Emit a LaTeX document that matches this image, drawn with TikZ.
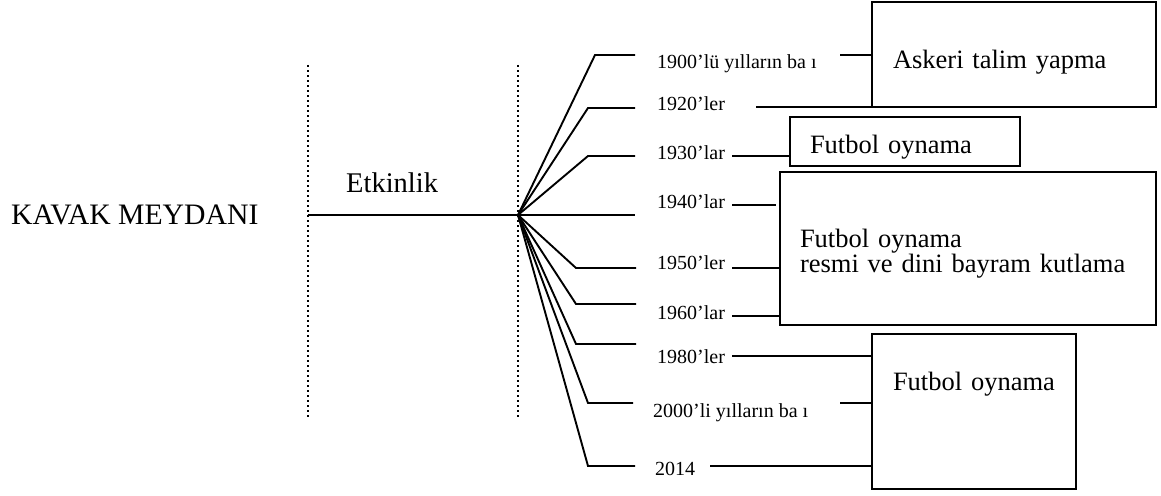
\documentclass[tikz,border=0pt]{standalone}
\usepackage{fontspec}
\setmainfont{Liberation Serif}
\usepackage{tikz}
\usetikzlibrary{positioning}

\tikzset{
  line/.style={line width=1.9pt},
  dots/.style={line width=2pt, dash pattern=on 2pt off 3pt},
  box/.style={draw, line width=1.9pt, align=left, inner ysep=0pt,
    font=\fontsize{26.5}{23.5}\selectfont},
  lbl/.style={anchor=base west, inner sep=0pt, font=\fontsize{20}{24}\selectfont},
  head/.style={anchor=base west, inner sep=0pt, font=\fontsize{28.5}{34}\selectfont}
}

\begin{document}
\begin{tikzpicture}[x=1pt,y=-1pt]
  \useasboundingbox (0,0) rectangle (1161,495);
  % texts
  \node[head, font=\fontsize{29.7}{34}\selectfont] at(11,224)(place){KAVAK MEYDANI};
  \node[head] at(346,192)(act){Etkinlik};
  % dotted lines
  \coordinate (d1a) at (308,65);
  \coordinate (d1b) at (308,418);
  \coordinate (d2a) at (518,65);
  \coordinate (d2b) at (518,418);
  \draw[dots] (d1a) -- (d1b);
  \draw[dots] (d2a) -- (d2b);
  % main line
  \coordinate (start) at (308,215);
  \coordinate (hub) at (518,215);
  \draw[line] (start) -- (hub);
  % years
  \node[lbl] at(657,68)(y1){1900’lü yılların ba ı};
  \node[lbl] at(657,110)(y2){1920’ler};
  \node[lbl] at(657,159)(y3){1930’lar};
  \node[lbl] at(657,208)(y4){1940’lar};
  \node[lbl] at(657,269)(y5){1950’ler};
  \node[lbl] at(657,319)(y6){1960’lar};
  \node[lbl] at(657,363)(y7){1980’ler};
  \node[lbl] at(653,417)(y8){2000’li yılların ba ı};
  \node[lbl] at(655,475)(y9){2014};
  % branches
  \coordinate (b1) at (595,55);  \coordinate (e1) at (635,55);
  \coordinate (b2) at (588,108); \coordinate (e2) at (635,108);
  \coordinate (b3) at (588,156); \coordinate (e3) at (635,156);
  \coordinate (e4) at (635,215);
  \coordinate (b5) at (576,268); \coordinate (e5) at (636,268);
  \coordinate (b6) at (576,304); \coordinate (e6) at (636,304);
  \coordinate (b7) at (576,344); \coordinate (e7) at (636,344);
  \coordinate (b8) at (588,403); \coordinate (e8) at (633,403);
  \coordinate (b9) at (588,466); \coordinate (e9) at (635,466);
  \draw[line] (hub) -- (b1) -- (e1);
  \draw[line] (hub) -- (b2) -- (e2);
  \draw[line] (hub) -- (b3) -- (e3);
  \draw[line] (hub) -- (e4);
  \draw[line] (hub) -- (b5) -- (e5);
  \draw[line] (hub) -- (b6) -- (e6);
  \draw[line] (hub) -- (b7) -- (e7);
  \draw[line] (hub) -- (b8) -- (e8);
  \draw[line] (hub) -- (b9) -- (e9);
  % boxes
  \node[box, minimum width=284, minimum height=105, inner xsep=21, text width=242,
    text height=34, text depth=7] at(1014,54.5)(drill){Askeri talim yapma};
  \node[box, minimum width=230, minimum height=49, inner xsep=20, text width=190,
    text height=30, text depth=7] at(905,141.5)(ball1){Futbol oynama};
  \node[box, minimum width=376, minimum height=153, inner xsep=20, text width=336,
    text height=30, text depth=33] at(968,248.5)(ball2){Futbol oynama\\resmi ve dini bayram kutlama};
  \node[box, minimum width=204, minimum height=155, inner xsep=21, text width=162,
    text height=20, text depth=63] at(974,411.5)(ball3){Futbol oynama};
  % links to boxes
  \coordinate (s1) at (840,55);
  \coordinate (s2) at (756,107);
  \coordinate (s3) at (732,156);
  \coordinate (s4) at (732,205);
  \coordinate (t4) at (776,205);
  \coordinate (s5) at (732,268);
  \coordinate (s6) at (732,316);
  \coordinate (s7) at (732,356);
  \coordinate (s8) at (840,403);
  \coordinate (s9) at (710,466);
  \draw[line] (s1) -- (s1 -| drill.west);
  \draw[line] (s2) -- (s2 -| drill.west);
  \draw[line] (s3) -- (s3 -| ball1.west);
  \draw[line] (s4) -- (t4);
  \draw[line] (s5) -- (s5 -| ball2.west);
  \draw[line] (s6) -- (s6 -| ball2.west);
  \draw[line] (s7) -- (s7 -| ball3.west);
  \draw[line] (s8) -- (s8 -| ball3.west);
  \draw[line] (s9) -- (s9 -| ball3.west);
\end{tikzpicture}
\end{document}
